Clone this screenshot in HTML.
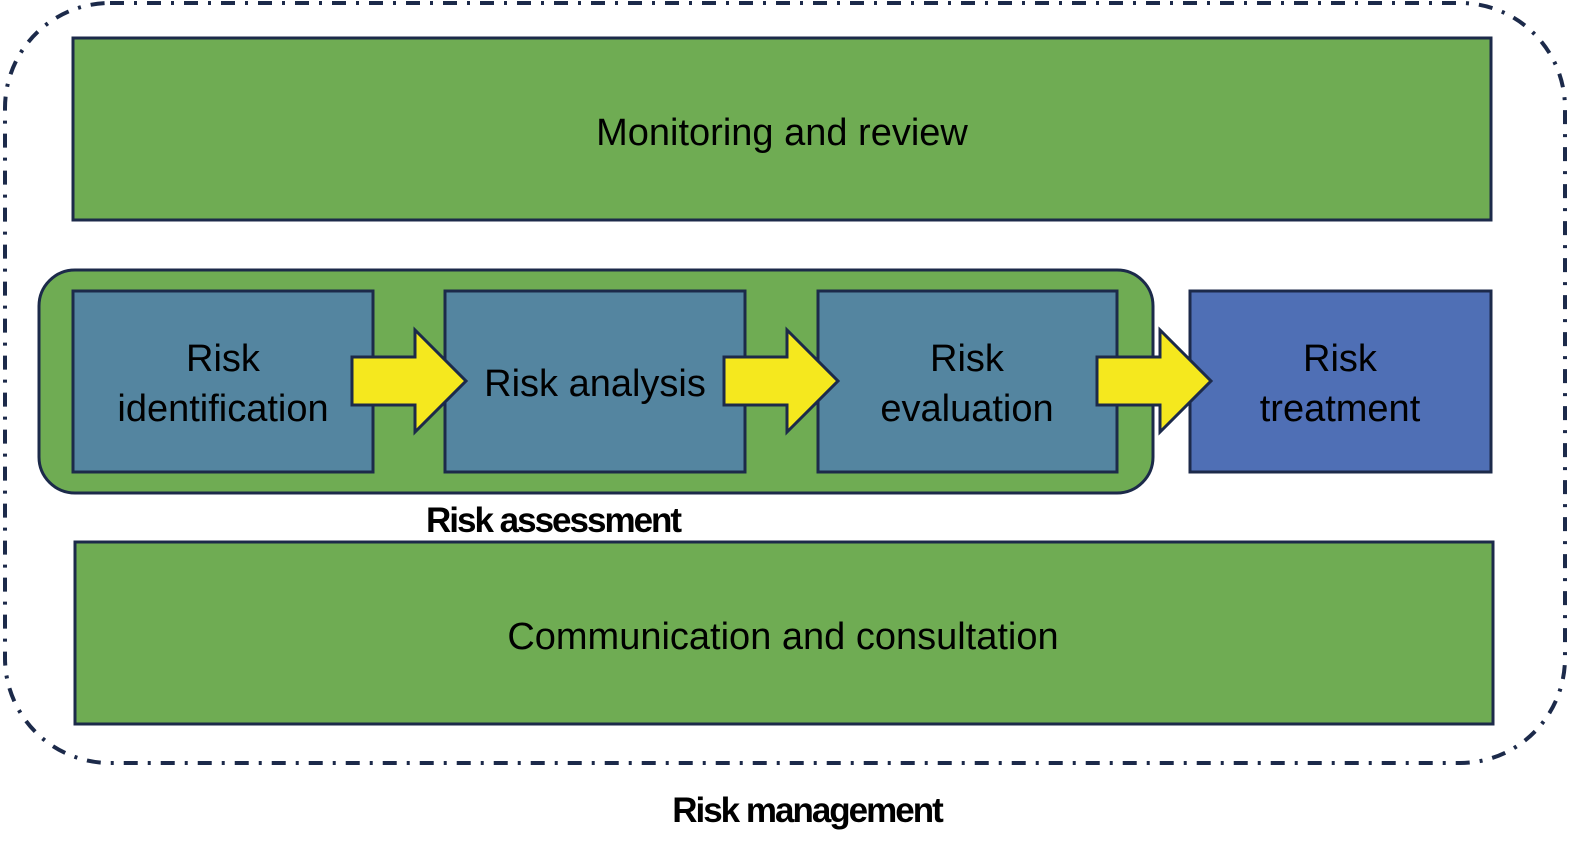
<!DOCTYPE html>
<html><head><meta charset="utf-8"><style>
html,body{margin:0;padding:0;background:#fff;width:1574px;height:852px;overflow:hidden}
svg text{font-family:"Liberation Sans",sans-serif;fill:#000}
</style></head><body>
<svg width="1574" height="852" viewBox="0 0 1574 852" xmlns="http://www.w3.org/2000/svg">
<rect x="5" y="3" width="1560" height="760" rx="105" ry="105" fill="none" stroke="#1c2a4a" stroke-width="4" stroke-dasharray="14 10 3 10"/>
<rect x="73" y="38" width="1418" height="182" fill="#6fac53" stroke="#1c2a4a" stroke-width="3"/>
<text x="782" y="145" font-size="38" text-anchor="middle">Monitoring and review</text>
<rect x="39" y="270" width="1114" height="223" rx="36" fill="#6fac53" stroke="#1c2a4a" stroke-width="3"/>
<rect x="73" y="291" width="300" height="181" fill="#5485a0" stroke="#1c2a4a" stroke-width="3"/>
<rect x="445" y="291" width="300" height="181" fill="#5485a0" stroke="#1c2a4a" stroke-width="3"/>
<rect x="818" y="291" width="299" height="181" fill="#5485a0" stroke="#1c2a4a" stroke-width="3"/>
<rect x="1190" y="291" width="301" height="181" fill="#4f6fb5" stroke="#1c2a4a" stroke-width="3"/>
<g fill="#f5e81e" stroke="#1c2a4a" stroke-width="3">
<polygon points="352,357 415,357 415,330 466,381 415,432 415,405 352,405"/>
<polygon points="724,357 787,357 787,330 838,381 787,432 787,405 724,405"/>
<polygon points="1097,357 1160,357 1160,330 1211,381 1160,432 1160,405 1097,405"/>
</g>
<g font-size="38" text-anchor="middle">
<text x="223" y="371">Risk</text><text x="223" y="421">identification</text>
<text x="595" y="396">Risk analysis</text>
<text x="967" y="371">Risk</text><text x="967" y="421">evaluation</text>
<text x="1340" y="371">Risk</text><text x="1340" y="421">treatment</text>
</g>
<text x="426" y="532" font-size="35" font-weight="bold" letter-spacing="-2">Risk assessment</text>
<rect x="75" y="542" width="1418" height="182" fill="#6fac53" stroke="#1c2a4a" stroke-width="3"/>
<text x="783" y="649" font-size="38" text-anchor="middle">Communication and consultation</text>
<text x="807" y="822" font-size="35" font-weight="bold" text-anchor="middle" letter-spacing="-2">Risk management</text>
</svg>
</body></html>
